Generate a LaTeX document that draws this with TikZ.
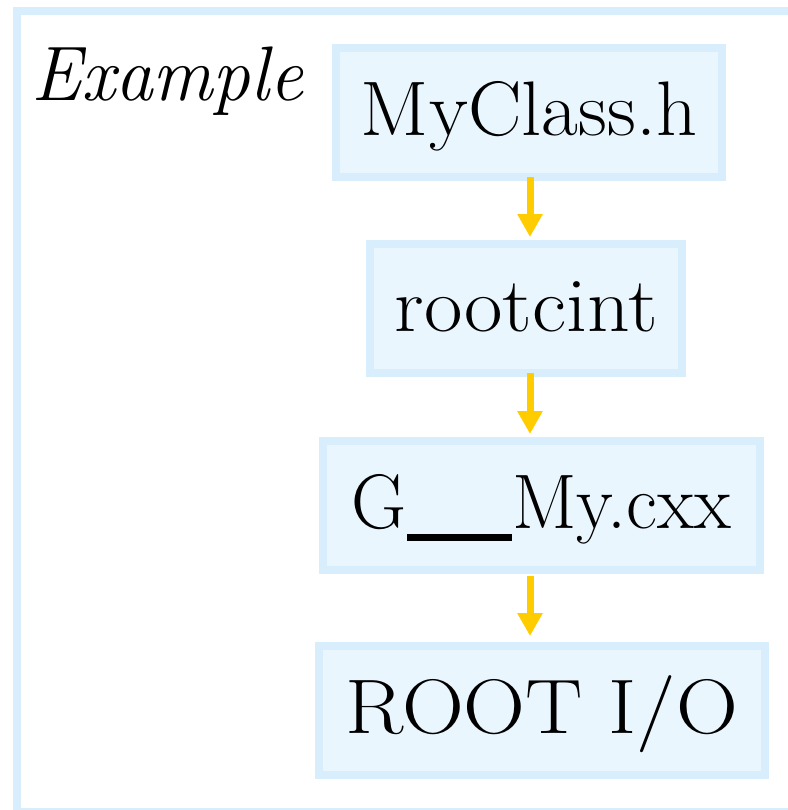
\documentclass[tikz,border=0pt]{standalone}
\usetikzlibrary{arrows.meta}
\usepackage{graphicx}
\definecolor{boxline}{RGB}{216,238,252}
\definecolor{boxfill}{RGB}{234,246,254}
\definecolor{flow}{RGB}{255,204,0}
\newcommand\wtext[2]{\resizebox{#1}{\height}{#2}}
% double underscore set as one heavy bar
\newcommand\heavyunderscores{\setbox0\hbox{\_\_}\rlap{\rule[-9pt]{\wd0}{5.25pt}}\box0}
\tikzset{
  filebox/.style={draw=boxline, fill=boxfill, line width=6pt,
    minimum height=96.75pt, text height=34.5pt, text depth=0pt,
    inner sep=0pt, font=\fontsize{58}{60}\selectfont},
  flowarrow/.style={draw=flow, line width=5.25pt,
    -{Triangle[length=17.25pt,width=18pt]}}
}
\begin{document}
\begin{tikzpicture}[x=0.75pt,y=-0.75pt]
  \useasboundingbox (0,0) rectangle (788,810);
  % outer frame, running off the right and bottom edges
  \begin{scope}
    \clip (0,0) rectangle (788,810);
    \draw[boxline, line width=6pt] (16.5,11) rectangle (800,812);
  \end{scope}
  \node[font=\fontsize{58}{60}\selectfont\itshape, anchor=base west, inner sep=0pt]
    (title) at (31,100) {\wtext{204pt}{Example}};
  % processing chain
  \node[filebox, minimum width=289.5pt] (hdr) at (529,112.5) {\wtext{252pt}{MyClass.h}};
  \node[filebox, minimum width=234pt]   (rc)  at (526,308.5) {\wtext{197.25pt}{rootcint}};
  \node[filebox, minimum width=327.75pt] (dict) at (541.5,505.5) {\wtext{284.25pt}{G\heavyunderscores My.cxx}};
  \node[filebox, minimum width=334.5pt] (io)  at (542,710.5) {\wtext{294pt}{ROOT I/O}};
  \coordinate (axis) at (530,0);
  \draw[flowarrow, shorten >=2.25pt] ([yshift=3pt]hdr.south -| axis) -- (rc.north -| axis);
  \draw[flowarrow, shorten >=2.25pt] ([yshift=3pt]rc.south -| axis) -- (dict.north -| axis);
  \draw[flowarrow, shorten >=4.5pt] ([yshift=-1.5pt]dict.south -| axis) -- (io.north -| axis);
\end{tikzpicture}
\end{document}
